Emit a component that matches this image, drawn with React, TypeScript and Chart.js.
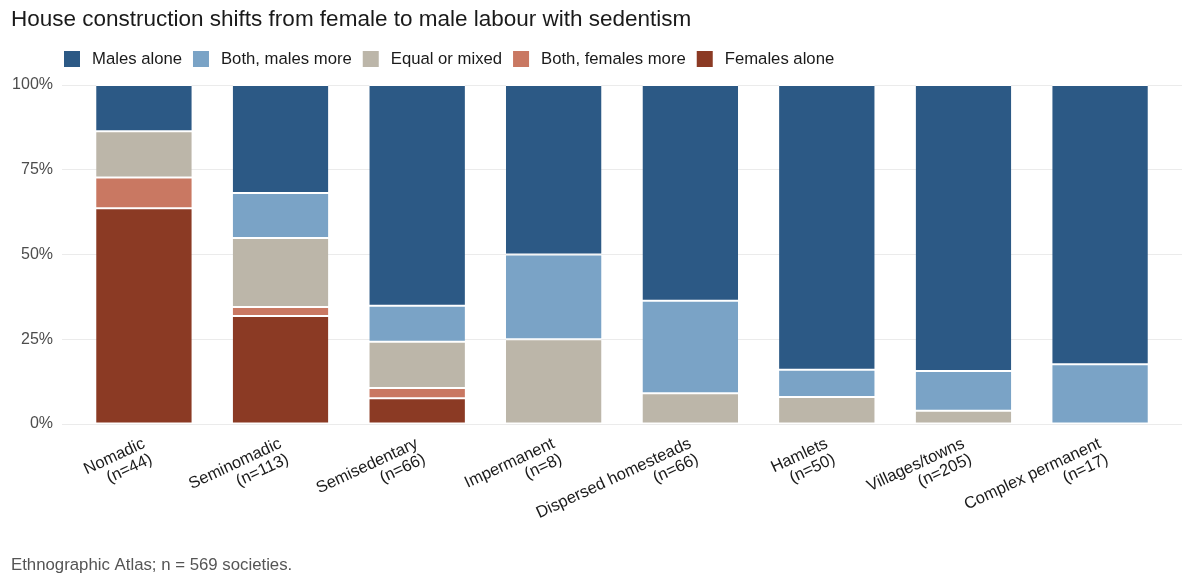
import React, { useEffect, useRef } from "react";
import { Chart, registerables } from "chart.js";

Chart.register(...registerables);

const categories = [
  "Nomadic",
  "Seminomadic",
  "Semisedentary",
  "Impermanent",
  "Dispersed homesteads",
  "Hamlets",
  "Villages/towns",
  "Complex permanent",
];
const sampleSizes = [44, 113, 66, 8, 66, 50, 205, 17];

// counts of societies per category
const malesAlone = [6, 36, 43, 4, 42, 42, 173, 14];
const bothMalesMore = [0, 15, 7, 2, 18, 4, 24, 3];
const equalOrMixed = [6, 23, 9, 2, 6, 4, 8, 0];
const bothFemalesMore = [4, 3, 2, 0, 0, 0, 0, 0];
const femalesAlone = [28, 36, 5, 0, 0, 0, 0, 0];

const yTicks = [0, 25, 50, 75, 100];

// legend order (top of stack first)
const seriesNames = [
  "Males alone",
  "Both, males more",
  "Equal or mixed",
  "Both, females more",
  "Females alone",
];
const seriesColors = ["#2c5985", "#7aa3c6", "#bcb6a9", "#c97862", "#8b3a24"];
const seriesCounts = [malesAlone, bothMalesMore, equalOrMixed, bothFemalesMore, femalesAlone];

const titleText = "House construction shifts from female to male labour with sedentism";
const captionText = "Ethnographic Atlas; n = 569 societies.";

const FONT = "'Liberation Sans', Arial, Helvetica, sans-serif";

const decorPlugin = {
  id: "decor",
  afterDraw(chart: any) {
    const ctx = chart.ctx as CanvasRenderingContext2D;
    ctx.save();
    // title
    ctx.fillStyle = "#1a1a1a";
    ctx.font = `22.5px ${FONT}`;
    ctx.textAlign = "left";
    ctx.textBaseline = "alphabetic";
    ctx.fillText(titleText, 11, 26);
    // legend
    ctx.font = `16.7px ${FONT}`;
    ctx.textBaseline = "middle";
    let x = 64;
    const boxTop = 51;
    const box = 16;
    seriesNames.forEach((name, i) => {
      ctx.fillStyle = seriesColors[i];
      ctx.fillRect(x, boxTop, box, box);
      ctx.fillStyle = "#1a1a1a";
      const tx = x + box + 12;
      ctx.fillText(name, tx, boxTop + box / 2 + 0.5);
      x = tx + ctx.measureText(name).width + 11;
    });
    // caption
    ctx.fillStyle = "#555555";
    ctx.font = `16.8px ${FONT}`;
    ctx.textBaseline = "alphabetic";
    ctx.fillText(captionText, 11, 570);
    ctx.restore();
  },
};

export default function App() {
  const canvasRef = useRef<HTMLCanvasElement | null>(null);

  useEffect(() => {
    if (!canvasRef.current) return;
    // datasets in stacking order: bottom first
    const order = [4, 3, 2, 1, 0];
    const datasets = order.map((s) => ({
      label: seriesNames[s],
      data: seriesCounts[s].map((c, i) => ({ x: i, y: (c / sampleSizes[i]) * 100 })),
      backgroundColor: seriesColors[s],
      borderColor: "#ffffff",
      borderWidth: { top: 1, bottom: 1, left: 0, right: 0 },
      borderSkipped: false,
      barPercentage: 0.7,
      categoryPercentage: 1,
    }));

    const chart = new Chart(canvasRef.current, {
      type: "bar",
      data: { datasets },
      plugins: [decorPlugin],
      options: {
        animation: false,
        responsive: false,
        maintainAspectRatio: false,
        layout: { padding: { top: 85, right: 18, left: 0, bottom: 0 } },
        plugins: {
          legend: { display: false },
          title: { display: false },
          tooltip: { enabled: false },
        },
        scales: {
          x: {
            type: "linear",
            stacked: true,
            offset: false,
            min: -0.6,
            max: 7.6,
            grid: { display: false },
            border: { display: false },
            afterBuildTicks: (scale: any) => {
              scale.ticks = categories.map((_, i) => ({ value: i }));
            },
            afterFit: (scale: any) => {
              scale.height = 154;
            },
            ticks: {
              autoSkip: false,
              minRotation: 25,
              maxRotation: 25,
              padding: 3,
              color: "#1a1a1a",
              font: { family: FONT, size: 16.5, lineHeight: 1.05 },
              callback: (v: any) => {
                const i = Math.round(Number(v));
                return [categories[i], `(n=${sampleSizes[i]})`];
              },
            },
          },
          y: {
            stacked: true,
            min: 0,
            max: 100,
            grid: { color: "#ebebeb", lineWidth: 1, drawTicks: false },
            border: { display: false },
            afterBuildTicks: (scale: any) => {
              scale.ticks = yTicks.map((v) => ({ value: v }));
            },
            afterFit: (scale: any) => {
              scale.width = 62;
            },
            ticks: {
              padding: 9,
              color: "#4d4d4d",
              font: { family: FONT, size: 16 },
              callback: (v: any) => `${v}%`,
            },
          },
        },
      },
    });
    return () => chart.destroy();
  }, []);

  return (
    <div
      style={{
        position: "absolute",
        left: 0,
        top: 0,
        width: 1200,
        height: 578,
        background: "#ffffff",
      }}
    >
      <canvas ref={canvasRef} width={1200} height={578} />
    </div>
  );
}
